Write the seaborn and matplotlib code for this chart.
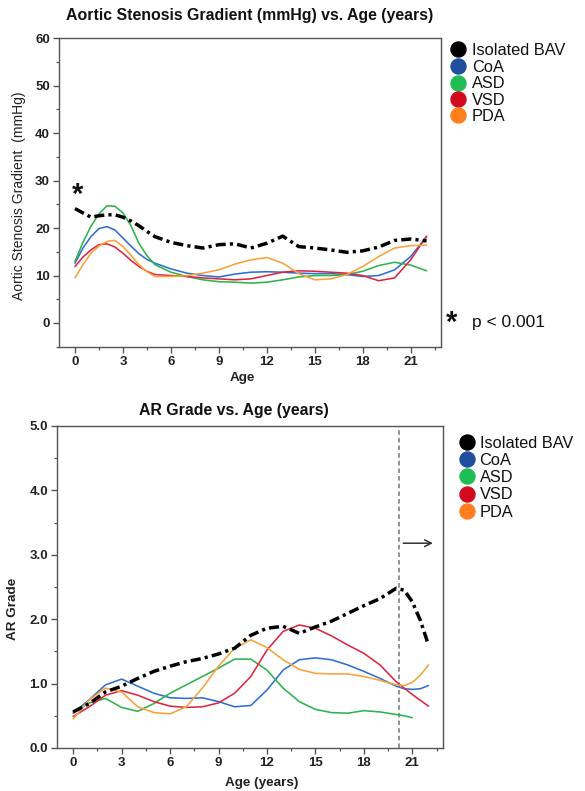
import numpy as np
import pandas as pd
import matplotlib
matplotlib.use("Agg")
import matplotlib.pyplot as plt
import seaborn as sns
from matplotlib.ticker import MultipleLocator, FormatStrFormatter
from matplotlib.lines import Line2D

# ---------------- data ----------------
groups = ["Isolated BAV", "CoA", "ASD", "VSD", "PDA"]

# Aortic stenosis gradient (mmHg)
ages_as = [0, 0.5, 1, 1.5, 2, 2.5, 3, 3.5, 4, 4.5, 5, 6, 7, 8, 9, 10, 11, 12,
           13, 14, 15, 16, 17, 18, 19, 20, 21, 22]
as_bav = [24.1, 23.2, 22.3, 22.6, 22.8, 22.8, 22.3, 21.5, 20.5, 19.3, 18.2, 17.0,
          16.3, 15.8, 16.5, 16.7, 15.8, 16.8, 18.3, 16.1, 15.8, 15.4, 14.9, 15.2,
          16.0, 17.4, 17.7, 17.3]
as_coa = [12.6, 15.8, 18.2, 19.9, 20.3, 19.6, 17.9, 16.2, 14.6, 13.4, 12.6, 11.4,
          10.5, 10.0, 9.7, 10.3, 10.7, 10.8, 10.7, 10.5, 10.4, 10.4, 10.2, 9.8,
          10.0, 11.2, 14.0, 18.2]
as_asd = [13.0, 17.0, 20.4, 23.0, 24.7, 24.6, 23.2, 20.5, 16.8, 14.2, 12.3, 10.7,
          9.8, 9.1, 8.7, 8.6, 8.4, 8.6, 9.1, 9.7, 10.0, 10.0, 10.2, 10.9, 12.1,
          12.8, 12.2, 11.0]
as_vsd = [11.9, 13.9, 15.4, 16.5, 16.7, 16.0, 14.7, 13.2, 11.9, 10.9, 10.2, 10.0,
          9.8, 9.5, 9.3, 9.1, 9.3, 10.0, 10.7, 11.0, 10.9, 10.7, 10.5, 10.0, 8.9,
          9.5, 13.3, 18.3]
as_pda = [9.5, 12.3, 14.7, 16.2, 17.2, 17.4, 16.1, 14.3, 12.3, 10.8, 9.8, 9.8,
          10.0, 10.5, 11.2, 12.4, 13.3, 13.8, 12.6, 10.4, 9.1, 9.3, 10.2, 11.9,
          14.0, 15.8, 16.3, 16.4]

# AR grade
ages_ar = [0, 1, 2, 3, 4, 5, 6, 7, 8, 9, 10, 11, 12, 13, 14, 15, 16, 17, 18, 19,
           20, 20.5, 21, 21.5, 22]
ar_bav = [0.56, 0.69, 0.87, 0.96, 1.08, 1.19, 1.27, 1.34, 1.39, 1.46, 1.55, 1.75,
          1.86, 1.89, 1.78, 1.88, 1.97, 2.09, 2.21, 2.32, 2.48, 2.45, 2.27, 1.98, 1.60]
ar_coa = [0.54, 0.75, 0.98, 1.07, 0.96, 0.85, 0.78, 0.77, 0.78, 0.72, 0.64, 0.66,
          0.90, 1.21, 1.37, 1.40, 1.37, 1.29, 1.19, 1.08, 0.96, 0.92, 0.91, 0.92, 0.97]
ar_asd = [0.56, 0.70, 0.77, 0.63, 0.57, 0.69, 0.85, 0.98, 1.11, 1.24, 1.38, 1.38,
          1.21, 0.93, 0.72, 0.60, 0.55, 0.54, 0.58, 0.56, 0.52, 0.50, 0.47, np.nan, np.nan]
ar_vsd = [0.49, 0.64, 0.82, 0.89, 0.82, 0.72, 0.65, 0.63, 0.64, 0.70, 0.85, 1.11,
          1.52, 1.81, 1.91, 1.86, 1.74, 1.60, 1.47, 1.29, 1.03, 0.93, 0.83, 0.74, 0.65]
ar_pda = [0.45, 0.75, 0.93, 0.87, 0.64, 0.55, 0.53, 0.64, 0.93, 1.27, 1.55, 1.68,
          1.56, 1.37, 1.22, 1.16, 1.15, 1.15, 1.11, 1.05, 0.98, 0.97, 1.02, 1.13, 1.29]

x_ticks = [0, 3, 6, 9, 12, 15, 18, 21]
as_ticks = [0, 10, 20, 30, 40, 50, 60]
ar_ticks = [0.0, 1.0, 2.0, 3.0, 4.0, 5.0]
cutoff_age = 20.2

# ---------------- style ----------------
line_colors = {"Isolated BAV": "#000000", "CoA": "#2F6FD2", "ASD": "#2FB34B",
               "VSD": "#DA2843", "PDA": "#F8A23A"}
legend_colors = ["#000000", "#1F4F9E", "#1FBE55", "#D20A1E", "#FF7F1F"]
sizes = {g: (2.5 if g == "Isolated BAV" else 1.15) for g in groups}
dashes = {g: ((2.9, 1.2, 0.9, 1.2) if g == "Isolated BAV" else "") for g in groups}

sns.set_style("ticks")
plt.rcParams["font.family"] = ["Liberation Sans", "DejaVu Sans"]

W, H = 585, 791
fig = plt.figure(figsize=(W / 100, H / 100), dpi=100)


def fx(px):
    return px / W


def fy(py):
    return 1 - py / H


ax1 = fig.add_axes([fx(59), fy(346.7), (441 - 59) / W, (346.7 - 38.3) / H])
ax2 = fig.add_axes([fx(57), fy(748), (443 - 57) / W, (748 - 426) / H])


def long_df(ages, series):
    rows = []
    for g, vals in zip(groups, series):
        for a, v in zip(ages, vals):
            rows.append({"Age": a, "value": v, "Group": g})
    return pd.DataFrame(rows).dropna()


df_as = long_df(ages_as, [as_bav, as_coa, as_asd, as_vsd, as_pda])
df_ar = long_df(ages_ar, [ar_bav, ar_coa, ar_asd, ar_vsd, ar_pda])

# draw colored lines first, BAV on top
order = ["CoA", "ASD", "VSD", "PDA", "Isolated BAV"]
for ax, df in [(ax1, df_as), (ax2, df_ar)]:
    sns.lineplot(data=df, x="Age", y="value", hue="Group", style="Group",
                 size="Group", hue_order=order, style_order=order, size_order=order,
                 palette=line_colors, sizes=sizes, dashes=dashes,
                 estimator=None, errorbar=None, legend=False, ax=ax)

for ax in (ax1, ax2):
    ax.set_xlim(-1, 22.9)
    ax.set_xticks(x_ticks)
    ax.xaxis.set_minor_locator(MultipleLocator(1.5))
    ax.set_xlabel("")
    ax.set_ylabel("")
    for s in ax.spines.values():
        s.set_color("#555555")
        s.set_linewidth(1.0)
    ax.tick_params(which="major", direction="out", length=4, width=1, color="#555555",
                   labelsize=9.5, pad=2.5, labelcolor="#222222")
    ax.tick_params(which="minor", direction="out", length=2.5, width=0.9, color="#555555")

ax1.set_ylim(-5, 60)
ax1.set_yticks(as_ticks)
ax1.yaxis.set_minor_locator(MultipleLocator(5))
ax2.set_ylim(0, 5)
ax2.set_yticks(ar_ticks)
ax2.yaxis.set_minor_locator(MultipleLocator(0.5))
ax2.yaxis.set_major_formatter(FormatStrFormatter("%.1f"))

for ax in (ax1, ax2):
    for lab in ax.get_xticklabels() + ax.get_yticklabels():
        lab.set_fontweight("bold")

# cut-off line and arrow in AR panel
ax2.axvline(cutoff_age, color="#777777", lw=1.1, ls=(0, (3, 2)), zorder=1)
ax2.annotate("", xy=(22.45, 3.18), xytext=(20.27, 3.18),
             arrowprops=dict(arrowstyle="->", color="#333333", lw=1.1,
                             mutation_scale=12))

# asterisk on the first BAV point
ax1.text(0.14, 25.3, "*", fontsize=21, fontweight="bold", ha="center",
         va="baseline", color="#111111")

# ---------------- titles and labels ----------------
fig.text(fx(249.7), fy(15.7), "Aortic Stenosis Gradient (mmHg) vs. Age (years)",
         fontsize=11.4, fontweight="bold", ha="center", va="center", color="#111111")
fig.text(fx(234.3), fy(410), "AR Grade vs. Age (years)",
         fontsize=11.4, fontweight="bold", ha="center", va="center", color="#111111")
fig.text(fx(18.6), fy(195.8), "Aortic Stenosis Gradient  (mmHg)", rotation=90,
         fontsize=10, ha="center", va="center", color="#222222")
fig.text(fx(13), fy(608.8), "AR Grade", rotation=90, fontsize=9.7,
         fontweight="bold", ha="center", va="center", color="#222222")
fig.text(fx(242), fy(378), "Age", fontsize=9.7, fontweight="bold",
         ha="center", va="center", color="#222222")
fig.text(fx(262), fy(783.3), "Age (years)", fontsize=9.7, fontweight="bold",
         ha="center", va="center", color="#222222")

# ---------------- custom legends ----------------
def draw_legend(cx, tx, rows):
    for g, col, ry in zip(groups, legend_colors, rows):
        fig.add_artist(Line2D([fx(cx)], [fy(ry)], marker="o", markersize=10.8,
                              color=col, markeredgecolor=col, linestyle="none",
                              transform=fig.transFigure))
        fig.text(fx(tx), fy(ry + 5.8), g, fontsize=11.8, ha="left",
                 va="baseline", color="#111111")


draw_legend(458, 471.7, [49, 65.7, 82.7, 99, 115])
draw_legend(466.5, 479.5, [441.7, 458.9, 476.2, 493.5, 510.8])

# p-value note
fig.text(fx(451.7), fy(330.7), "*", fontsize=21, fontweight="bold", ha="center",
         va="baseline", color="#111111")
fig.text(fx(471.7), fy(327.3), "p < 0.001", fontsize=12.5, ha="left",
         va="baseline", color="#111111")

fig.savefig("out.png", dpi=100)
